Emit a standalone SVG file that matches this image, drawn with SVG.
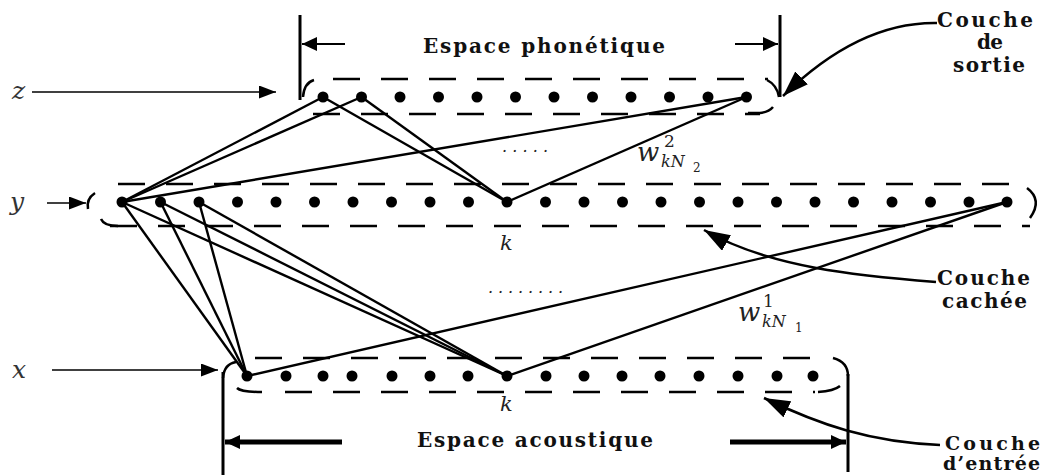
<svg xmlns="http://www.w3.org/2000/svg" width="1052" height="475" viewBox="0 0 1052 475">
<style>
.dash{stroke:#000;stroke-width:2.5;stroke-dasharray:27 21;fill:none}
.arc{stroke:#000;stroke-width:2.5;fill:none}
.conn{stroke:#000;stroke-width:2.4;fill:none}
.dot{fill:#000}
.thin{stroke:#000;stroke-width:1.4;fill:none}
.bar{stroke:#000;stroke-width:3;fill:none}
</style>
<defs>
<marker id="ah" markerUnits="userSpaceOnUse" markerWidth="17" markerHeight="13" refX="17" refY="6.5" orient="auto"><path d="M0,0 L17,6.5 L0,13 Z" fill="#000"/></marker>
<marker id="ahm" markerUnits="userSpaceOnUse" markerWidth="15" markerHeight="14" refX="15" refY="7" orient="auto"><path d="M0,0 L15,7 L0,14 Z" fill="#000"/></marker>
<marker id="ahb" markerUnits="userSpaceOnUse" markerWidth="26" markerHeight="18" refX="26" refY="9" orient="auto"><path d="M0,0 L26,9 L0,18 Z" fill="#000"/></marker>
</defs>

<g id="connectors">
<line class="conn" x1="323" y1="97" x2="122" y2="202"/>
<line class="conn" x1="323" y1="97" x2="507" y2="202"/>
<line class="conn" x1="361.5" y1="97" x2="122" y2="202"/>
<line class="conn" x1="361.5" y1="97" x2="507" y2="202"/>
<line class="conn" x1="746.5" y1="97" x2="122" y2="202"/>
<line class="conn" x1="746.5" y1="97" x2="507" y2="202"/>
<line class="conn" x1="122" y1="202" x2="247" y2="376"/>
<line class="conn" x1="122" y1="202" x2="507" y2="376"/>
<line class="conn" x1="160.5" y1="202" x2="247" y2="376"/>
<line class="conn" x1="160.5" y1="202" x2="507" y2="376"/>
<line class="conn" x1="199" y1="202" x2="247" y2="376"/>
<line class="conn" x1="199" y1="202" x2="507" y2="376"/>
<line class="conn" x1="1007" y1="202" x2="247" y2="376"/>
<line class="conn" x1="1007" y1="202" x2="507" y2="376"/>
</g>

<g id="layer-z">
<line class="dash" x1="333" y1="79" x2="768" y2="79"/>
<line class="dash" x1="313" y1="114" x2="760" y2="114"/>
<path class="arc" d="M303,97 Q304,83 314,80"/>
<path class="arc" d="M767,80 Q777,85 779,97"/>
<path class="arc" d="M748,113 L760,113 Q769,112 773,107"/>
<g class="dot">
<circle cx="323" cy="97" r="5.5"/><circle cx="361.5" cy="97" r="5.5"/><circle cx="400" cy="97" r="5.5"/><circle cx="438.5" cy="97" r="5.5"/><circle cx="477" cy="97" r="5.5"/><circle cx="515.5" cy="97" r="5.5"/><circle cx="554" cy="97" r="5.5"/><circle cx="592.5" cy="97" r="5.5"/><circle cx="631" cy="97" r="5.5"/><circle cx="669.5" cy="97" r="5.5"/><circle cx="708" cy="97" r="5.5"/><circle cx="746.5" cy="97" r="5.5"/>
</g>
</g>

<g id="layer-y">
<line class="dash" x1="118" y1="184" x2="1010" y2="184"/>
<line class="dash" x1="110" y1="226" x2="1030" y2="226"/>
<path class="arc" d="M95,193 Q86,199 88,209"/>
<path class="arc" d="M101,219 Q104,226 118,226"/>
<path class="arc" d="M1027,188 Q1043,200 1030,218"/>
<g class="dot">
<circle cx="122" cy="202" r="5.5"/><circle cx="160.5" cy="202" r="5.5"/><circle cx="199" cy="202" r="5.5"/><circle cx="237.5" cy="202" r="5.5"/><circle cx="276" cy="202" r="5.5"/><circle cx="314.5" cy="202" r="5.5"/><circle cx="353" cy="202" r="5.5"/><circle cx="391.5" cy="202" r="5.5"/><circle cx="430" cy="202" r="5.5"/><circle cx="468.5" cy="202" r="5.5"/><circle cx="507" cy="202" r="5.5"/><circle cx="545.5" cy="202" r="5.5"/><circle cx="584" cy="202" r="5.5"/><circle cx="622.5" cy="202" r="5.5"/><circle cx="661" cy="202" r="5.5"/><circle cx="699.5" cy="202" r="5.5"/><circle cx="738" cy="202" r="5.5"/><circle cx="776.5" cy="202" r="5.5"/><circle cx="815" cy="202" r="5.5"/><circle cx="853.5" cy="202" r="5.5"/><circle cx="892" cy="202" r="5.5"/><circle cx="930.5" cy="202" r="5.5"/><circle cx="969" cy="202" r="5.5"/><circle cx="1007" cy="202" r="5.5"/>
</g>
</g>

<g id="layer-x">
<line class="dash" x1="255" y1="358" x2="815" y2="358"/>
<line class="dash" x1="285" y1="392" x2="815" y2="392"/>
<path class="arc" d="M223,378 Q224,364 236,362"/>
<path class="arc" d="M237,388 Q241,392 262,392"/>
<path class="arc" d="M833,358 Q848,362 848,376"/>
<path class="arc" d="M818,392 Q834,391 840,386"/>
<g class="dot">
<circle cx="247" cy="376" r="5.5"/><circle cx="286" cy="376" r="5.5"/><circle cx="323" cy="376" r="5.5"/><circle cx="352" cy="376" r="5.5"/><circle cx="392" cy="376" r="5.5"/><circle cx="430" cy="376" r="5.5"/><circle cx="468" cy="376" r="5.5"/><circle cx="507" cy="376" r="5.5"/><circle cx="546" cy="376" r="5.5"/><circle cx="584" cy="376" r="5.5"/><circle cx="622" cy="376" r="5.5"/><circle cx="660" cy="376" r="5.5"/><circle cx="699" cy="376" r="5.5"/><circle cx="738" cy="376" r="5.5"/><circle cx="777" cy="376" r="5.5"/><circle cx="813" cy="376" r="5.5"/>
</g>
</g>

<g id="input-labels" font-family="DejaVu Serif, serif" font-style="italic" font-size="25" fill="#333">
<text x="12" y="99">z</text>
<text x="10" y="210">y</text>
<text x="12" y="378">x</text>
<line class="thin" x1="32" y1="92" x2="276" y2="92" marker-end="url(#ah)"/>
<line class="thin" x1="47" y1="203" x2="86" y2="203" marker-end="url(#ah)"/>
<line class="thin" x1="52" y1="370" x2="218" y2="370" marker-end="url(#ah)"/>
</g>

<g id="espace-phonetique">
<line class="bar" x1="300" y1="15" x2="300" y2="100"/>
<line class="bar" x1="780" y1="15" x2="780" y2="97"/>
<line x1="345" y1="44" x2="302" y2="44" stroke="#000" stroke-width="2.2" marker-end="url(#ahm)"/>
<line x1="735" y1="44" x2="778" y2="44" stroke="#000" stroke-width="2.2" marker-end="url(#ahm)"/>
<text x="423" y="53" font-family="DejaVu Serif, serif" font-weight="bold" font-size="20" fill="#111" textLength="242" lengthAdjust="spacing">Espace phonétique</text>
</g>

<g id="espace-acoustique">
<line class="bar" x1="223" y1="372" x2="223" y2="475"/>
<line class="bar" x1="848" y1="374" x2="848" y2="472"/>
<line x1="342" y1="442" x2="225" y2="442" stroke="#000" stroke-width="5" marker-end="url(#ahm)"/>
<line x1="730" y1="442" x2="846" y2="442" stroke="#000" stroke-width="5" marker-end="url(#ahm)"/>
<text x="417" y="447" font-family="DejaVu Serif, serif" font-weight="bold" font-size="20" fill="#111" textLength="236" lengthAdjust="spacing">Espace acoustique</text>
</g>

<g id="weights" font-family="DejaVu Serif, serif" font-style="italic" fill="#222">
<text x="502" y="152" font-size="16" textLength="46" lengthAdjust="spacing">.....</text>
<text x="488" y="293" font-size="16" textLength="75" lengthAdjust="spacing">........</text>
<text x="500" y="250" font-size="21">k</text>
<text x="500" y="411" font-size="21">k</text>
<text x="637" y="161" font-size="26">w</text>
<text x="664" y="147" font-size="17" font-style="normal">2</text>
<text x="661" y="167" font-size="16">kN</text>
<text x="693" y="172" font-size="12" font-style="normal">2</text>
<text x="738" y="321" font-size="26">w</text>
<text x="763" y="307" font-size="17" font-style="normal">1</text>
<text x="762" y="327" font-size="16">kN</text>
<text x="795" y="332" font-size="12" font-style="normal">1</text>
</g>

<g id="couche-sortie" font-family="DejaVu Serif, serif" font-weight="bold" font-size="20" fill="#111">
<path class="arc" d="M937,23 C880,22 830,50 783,96" marker-end="url(#ahb)"/>
<text x="937" y="27" textLength="96" lengthAdjust="spacing">Couche</text>
<text x="977" y="49" textLength="26" lengthAdjust="spacing">de</text>
<text x="953" y="72" textLength="72" lengthAdjust="spacing">sortie</text>
</g>

<g id="couche-cachee" font-family="DejaVu Serif, serif" font-weight="bold" font-size="20" fill="#111">
<path class="arc" d="M936,282 C860,276 770,268 704,230" marker-end="url(#ahb)"/>
<text x="937" y="285" textLength="93" lengthAdjust="spacing">Couche</text>
<text x="942" y="308" textLength="85" lengthAdjust="spacing">cachée</text>
</g>

<g id="couche-entree" font-family="DejaVu Serif, serif" font-weight="bold" font-size="19" fill="#111">
<path class="arc" d="M940,445 C870,442 820,425 764,398" marker-end="url(#ahb)"/>
<text x="945" y="450" textLength="95" lengthAdjust="spacing">Couche</text>
<text x="943" y="470" textLength="97" lengthAdjust="spacing">d’entrée</text>
</g>
</svg>
